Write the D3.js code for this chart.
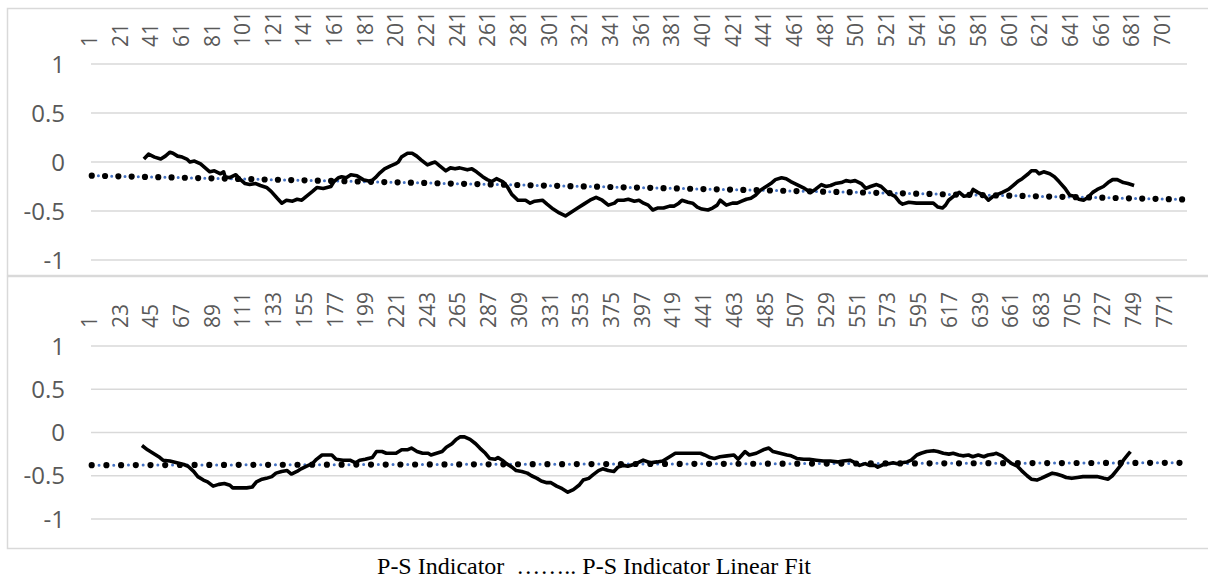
<!DOCTYPE html>
<html>
<head>
<meta charset="utf-8">
<script src="https://cdn.jsdelivr.net/npm/d3@7"></script>
<style>
  body { margin: 0; background: #fff; }
  svg { display: block; }
  .lab { font-family: "Open Sans", sans-serif; fill: #595959; }
</style>
</head>
<body>
<div id="chart"></div>
<script>
// ---- data ----
// [category, P-S indicator]
var topPS = [
  [35,0.03],[38,0.08],[42,0.05],[46,0.03],[49,0.06],[52,0.10],[54,0.09],[57,0.06],[60,0.05],[63,0.03],
  [65,0.00],[68,0.01],[72,-0.02],[75,-0.06],[78,-0.10],[81,-0.09],[85,-0.12],[87,-0.10],[88,-0.15],[91,-0.16],
  [95,-0.13],[98,-0.18],[101,-0.22],[104,-0.23],[108,-0.22],[111,-0.24],[115,-0.26],[118,-0.30],[122,-0.37],[125,-0.42],
  [128,-0.39],[132,-0.40],[135,-0.38],[138,-0.39],[141,-0.35],[145,-0.30],[148,-0.26],[152,-0.27],[157,-0.25],[159,-0.20],
  [162,-0.16],[164,-0.15],[167,-0.16],[170,-0.13],[174,-0.14],[178,-0.18],[183,-0.20],[186,-0.16],[189,-0.11],[192,-0.07],
  [196,-0.04],[199,-0.02],[201,0.00],[203,0.05],[207,0.09],[210,0.09],[213,0.06],[216,0.02],[220,-0.03],[223,-0.01],
  [225,0.00],[228,-0.04],[232,-0.09],[235,-0.06],[238,-0.07],[241,-0.06],[246,-0.08],[249,-0.07],[252,-0.10],[256,-0.15],
  [259,-0.18],[262,-0.20],[265,-0.17],[269,-0.20],[272,-0.25],[275,-0.33],[279,-0.39],[281,-0.39],[284,-0.39],[287,-0.42],
  [290,-0.40],[295,-0.39],[298,-0.43],[302,-0.48],[306,-0.52],[310,-0.55],[313,-0.52],[318,-0.47],[322,-0.43],[326,-0.39],
  [330,-0.36],[334,-0.39],[338,-0.44],[342,-0.42],[344,-0.39],[348,-0.39],[351,-0.38],[355,-0.40],[358,-0.39],[361,-0.42],
  [364,-0.44],[367,-0.49],[370,-0.47],[374,-0.47],[378,-0.45],[381,-0.45],[384,-0.42],[386,-0.39],[390,-0.41],[393,-0.42],
  [396,-0.46],[399,-0.48],[403,-0.49],[406,-0.47],[409,-0.44],[411,-0.39],[415,-0.44],[419,-0.42],[422,-0.42],[425,-0.40],
  [428,-0.38],[431,-0.37],[434,-0.34],[437,-0.29],[441,-0.25],[444,-0.22],[447,-0.18],[451,-0.16],[454,-0.17],[457,-0.20],
  [461,-0.23],[466,-0.27],[470,-0.31],[473,-0.28],[477,-0.23],[480,-0.25],[483,-0.24],[486,-0.22],[490,-0.21],[493,-0.19],
  [496,-0.20],[499,-0.19],[503,-0.22],[506,-0.27],[509,-0.25],[513,-0.23],[516,-0.25],[520,-0.31],[525,-0.35],[528,-0.41],
  [530,-0.43],[534,-0.41],[539,-0.42],[544,-0.42],[550,-0.42],[553,-0.46],[556,-0.47],[558,-0.44],[560,-0.39],[564,-0.34],
  [567,-0.31],[570,-0.35],[574,-0.34],[576,-0.28],[579,-0.31],[583,-0.34],[586,-0.39],[589,-0.35],[592,-0.33],[595,-0.31],
  [599,-0.28],[602,-0.24],[605,-0.20],[608,-0.17],[612,-0.12],[614,-0.09],[617,-0.09],[619,-0.12],[622,-0.10],[626,-0.12],
  [629,-0.15],[632,-0.20],[636,-0.27],[639,-0.34],[642,-0.35],[645,-0.38],[648,-0.39],[651,-0.36],[654,-0.31],[657,-0.28],
  [661,-0.25],[664,-0.21],[667,-0.18],[670,-0.18],[674,-0.21],[677,-0.22],[681,-0.24]
];
var bottomPS = [
  [37,-0.15],[41,-0.20],[45,-0.24],[49,-0.28],[52,-0.32],[57,-0.33],[62,-0.35],[67,-0.37],[70,-0.39],[74,-0.45],
  [77,-0.51],[81,-0.55],[84,-0.57],[88,-0.62],[92,-0.60],[96,-0.59],[100,-0.61],[102,-0.64],[107,-0.64],[112,-0.64],
  [116,-0.63],[119,-0.57],[123,-0.54],[126,-0.53],[130,-0.51],[133,-0.47],[137,-0.45],[141,-0.44],[144,-0.48],[148,-0.45],
  [151,-0.42],[155,-0.39],[159,-0.36],[162,-0.31],[166,-0.26],[169,-0.26],[173,-0.26],[176,-0.31],[181,-0.32],[186,-0.32],
  [190,-0.35],[193,-0.32],[197,-0.31],[199,-0.30],[202,-0.29],[205,-0.22],[209,-0.22],[212,-0.24],[216,-0.24],[219,-0.24],
  [223,-0.20],[227,-0.20],[230,-0.18],[234,-0.22],[238,-0.24],[242,-0.24],[244,-0.26],[248,-0.24],[252,-0.22],[255,-0.17],
  [259,-0.13],[262,-0.08],[265,-0.05],[268,-0.05],[272,-0.08],[276,-0.13],[279,-0.18],[283,-0.24],[286,-0.30],[290,-0.31],
  [292,-0.29],[295,-0.32],[298,-0.36],[302,-0.40],[305,-0.44],[309,-0.45],[313,-0.47],[316,-0.50],[320,-0.53],[323,-0.56],
  [327,-0.58],[330,-0.58],[334,-0.62],[338,-0.65],[342,-0.69],[346,-0.66],[350,-0.61],[353,-0.55],[357,-0.53],[360,-0.49],
  [364,-0.44],[367,-0.42],[371,-0.44],[375,-0.45],[378,-0.40],[382,-0.38],[385,-0.39],[389,-0.37],[392,-0.35],[396,-0.32],
  [401,-0.35],[406,-0.34],[410,-0.33],[415,-0.28],[419,-0.24],[422,-0.24],[427,-0.24],[432,-0.24],[437,-0.24],[440,-0.26],
  [444,-0.29],[447,-0.30],[451,-0.28],[456,-0.27],[461,-0.26],[464,-0.31],[469,-0.22],[472,-0.26],[477,-0.24],[482,-0.20],
  [486,-0.18],[489,-0.22],[494,-0.24],[499,-0.26],[502,-0.27],[506,-0.30],[511,-0.31],[515,-0.31],[520,-0.32],[525,-0.33],
  [530,-0.33],[535,-0.34],[539,-0.33],[544,-0.32],[548,-0.35],[551,-0.38],[555,-0.36],[558,-0.38],[562,-0.38],[564,-0.40],
  [568,-0.37],[572,-0.36],[575,-0.35],[578,-0.36],[581,-0.35],[585,-0.34],[588,-0.32],[592,-0.26],[595,-0.24],[599,-0.22],
  [604,-0.21],[607,-0.22],[611,-0.24],[615,-0.25],[618,-0.24],[622,-0.26],[625,-0.27],[629,-0.26],[632,-0.28],[636,-0.26],
  [640,-0.28],[643,-0.26],[647,-0.25],[649,-0.24],[653,-0.27],[656,-0.31],[660,-0.36],[664,-0.39],[667,-0.44],[671,-0.50],
  [674,-0.54],[678,-0.55],[681,-0.53],[685,-0.50],[689,-0.47],[692,-0.48],[696,-0.50],[699,-0.52],[703,-0.53],[707,-0.52],
  [711,-0.51],[716,-0.51],[721,-0.51],[726,-0.53],[729,-0.54],[732,-0.50],[735,-0.44],[738,-0.38],[740,-0.32],[743,-0.26],
  [745,-0.22]
];
// linear fit end points [category, value]
var topFit = [[1,-0.14],[715,-0.383]];
var bottomFit = [[1,-0.378],[785,-0.35]];

var topCount = 715, bottomCount = 785;
var topTicks = d3.range(1, 702, 20);      // 1, 21, ... 701
var bottomTicks = d3.range(1, 772, 22);   // 1, 23, ... 771
var yTicks = [1, 0.5, 0, -0.5, -1];
var yLabels = ["1", "0.5", "0", "-0.5", "-1"];
var legendText = "P-S Indicator  …….. P-S Indicator Linear Fit";

var width = 1208, height = 585;
var svg = d3.select("#chart").append("svg")
    .attr("width", width)
    .attr("height", height);

function panel(cfg) {
  // frame
  svg.append("rect")
    .attr("x", 7.5).attr("y", cfg.frameTop + 0.5)
    .attr("width", 1210).attr("height", cfg.frameBottom - cfg.frameTop)
    .attr("fill", "none").attr("stroke", "#d9d9d9").attr("stroke-width", 1.5);

  var x = d3.scaleLinear().domain([0.5, cfg.count + 0.5]).range([91, 1187]);
  var y = d3.scaleLinear().domain([-1, 1]).range([cfg.yBottom, cfg.yTop]);

  // gridlines
  svg.append("g").selectAll("line")
    .data(yTicks).enter().append("line")
    .attr("x1", 91).attr("x2", 1187)
    .attr("y1", function(d) { return y(d); })
    .attr("y2", function(d) { return y(d); })
    .attr("stroke", "#d9d9d9").attr("stroke-width", 1.3);

  // y labels
  svg.append("g").selectAll("text")
    .data(yTicks).enter().append("text")
    .attr("class", "lab")
    .attr("x", 65)
    .attr("y", function(d) { return y(d); })
    .attr("dy", "0.36em")
    .attr("text-anchor", "end")
    .style("font-size", "24px")
    .text(function(d, i) { return yLabels[i]; });

  // rotated category labels on top
  var xAxis = svg.append("g")
    .attr("transform", "translate(0," + cfg.labelBase + ")")
    .call(d3.axisTop(x).tickValues(cfg.ticks).tickSize(0).tickFormat(d3.format("d")));
  xAxis.select(".domain").remove();
  xAxis.selectAll("text")
    .attr("class", "lab")
    .attr("transform", "rotate(-90)")
    .attr("x", 0).attr("y", 0)
    .attr("dy", "0.22em")
    .attr("text-anchor", "start")
    .style("font-size", "21px")
    .style("font-family", "'Open Sans', sans-serif")
    .attr("fill", "#595959");

  var line = d3.line()
    .x(function(d) { return x(d[0]); })
    .y(function(d) { return y(d[1]); });

  // linear fit: blue dotted line under big black dots
  svg.append("path")
    .attr("d", line(cfg.fit))
    .attr("fill", "none").attr("stroke", "#4472c4")
    .attr("stroke-width", 3).attr("stroke-linecap", "round")
    .attr("stroke-dasharray", "0," + (cfg.dot / 2));
  svg.append("path")
    .attr("d", line(cfg.fit))
    .attr("fill", "none").attr("stroke", "#000")
    .attr("stroke-width", 6.2).attr("stroke-linecap", "round")
    .attr("stroke-dasharray", "0," + cfg.dot);

  // indicator series
  svg.append("path")
    .attr("d", line(cfg.series))
    .attr("fill", "none").attr("stroke", "#000")
    .attr("stroke-width", 3.6).attr("stroke-linejoin", "round");
}

panel({ frameTop: 8, frameBottom: 275, yTop: 64, yBottom: 260, labelBase: 47,
        count: topCount, ticks: topTicks, series: topPS, fit: topFit, dot: 13.3 });
panel({ frameTop: 276, frameBottom: 548, yTop: 346, yBottom: 519, labelBase: 328,
        count: bottomCount, ticks: bottomTicks, series: bottomPS, fit: bottomFit, dot: 14.7 });

svg.append("text")
  .attr("x", 594).attr("y", 574)
  .attr("text-anchor", "middle")
  .style("font-family", "'Liberation Serif', 'Times New Roman', serif")
  .style("font-size", "24px")
  .style("white-space", "pre")
  .attr("fill", "#000")
  .text(legendText);
</script>
</body>
</html>
